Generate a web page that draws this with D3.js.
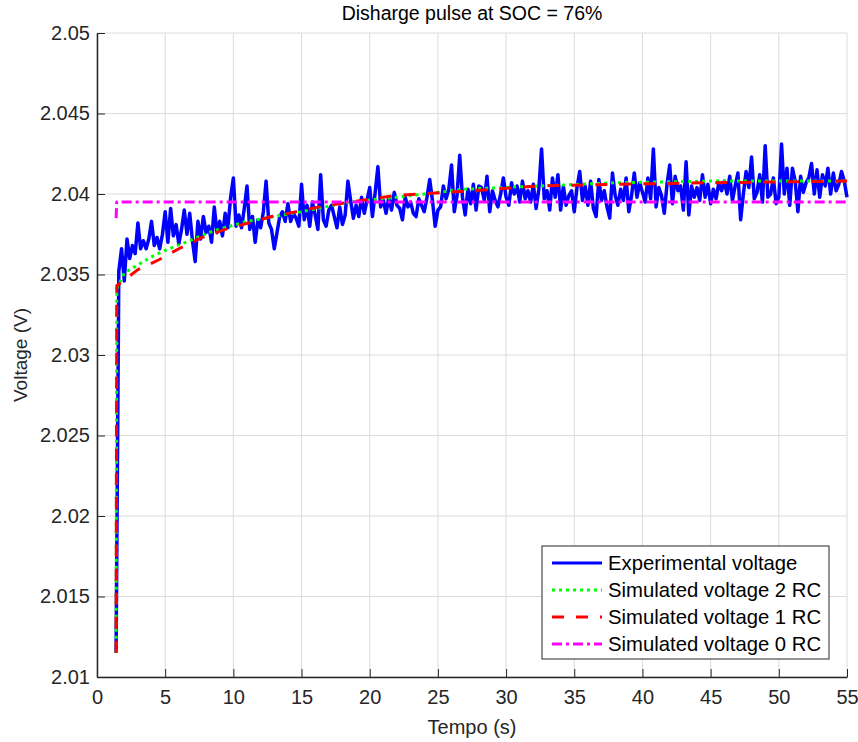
<!DOCTYPE html>
<html>
<head>
<meta charset="utf-8">
<script src="https://cdn.jsdelivr.net/npm/d3@7"></script>
<style>
  body { margin: 0; background: #fff; }
  svg { font-family: "Liberation Sans", Arial, sans-serif; }
  .axis path, .axis line { stroke: #262626; }
  .axis text { fill: #262626; font-size: 20px; }
  .grid line { stroke: #dcdcdc; stroke-width: 1; }
</style>
</head>
<body>
<div id="chart"></div>
<script>
// x ticks / y ticks
const xTicks = [0, 5, 10, 15, 20, 25, 30, 35, 40, 45, 50, 55];
const yTicks = [2.01, 2.015, 2.02, 2.025, 2.03, 2.035, 2.04, 2.045, 2.05];
const yTickLabels = ["2.01", "2.015", "2.02", "2.025", "2.03", "2.035", "2.04", "2.045", "2.05"];

// experimental voltage, sampled every 0.2 s starting at 1.4 s
const expStart = 1.4;
const expStep = 0.2;
const expVoltage = [
  2.0115, 2.0352, 2.0366, 2.0346, 2.0372, 2.0360, 2.0368, 2.0363, 2.0382, 2.0366,
  2.0371, 2.0366, 2.0372, 2.0383, 2.0368, 2.0373, 2.0366, 2.0375, 2.0389, 2.0370,
  2.0391, 2.0374, 2.0381, 2.0369, 2.0378, 2.0390, 2.0375, 2.0388, 2.0371, 2.0358,
  2.0383, 2.0372, 2.0386, 2.0376, 2.0380, 2.0370, 2.0392, 2.0376, 2.0383, 2.0374,
  2.0388, 2.0379, 2.0398, 2.0410, 2.0380, 2.0387, 2.0379, 2.0391, 2.0405, 2.0378,
  2.0386, 2.0370, 2.0384, 2.0379, 2.0389, 2.0408, 2.0382, 2.0378, 2.0366, 2.0376,
  2.0386, 2.0389, 2.0383, 2.0394, 2.0383, 2.0388, 2.0385, 2.0380, 2.0406, 2.0384,
  2.0393, 2.0380, 2.0395, 2.0387, 2.0378, 2.0412, 2.0384, 2.0380, 2.0390, 2.0393,
  2.0386, 2.0379, 2.0392, 2.0381, 2.0387, 2.0408, 2.0396, 2.0385, 2.0393, 2.0386,
  2.0398, 2.0388, 2.0396, 2.0404, 2.0386, 2.0401, 2.0417, 2.0392, 2.0396, 2.0388,
  2.0398, 2.0390, 2.0401, 2.0393, 2.0391, 2.0384, 2.0398, 2.0392, 2.0395, 2.0388,
  2.0386, 2.0397, 2.0393, 2.0389, 2.0398, 2.0409, 2.0396, 2.0380, 2.0390, 2.0392,
  2.0405, 2.0397, 2.0403, 2.0418, 2.0389, 2.0399, 2.0424, 2.0398, 2.0387, 2.0403,
  2.0394, 2.0406, 2.0390, 2.0405, 2.0404, 2.0396, 2.0411, 2.0389, 2.0402, 2.0396,
  2.0392, 2.0400, 2.0410, 2.0398, 2.0393, 2.0407, 2.0400, 2.0405, 2.0395, 2.0408,
  2.0397, 2.0402, 2.0395, 2.0406, 2.0391, 2.0403, 2.0428, 2.0397, 2.0402, 2.0390,
  2.0410, 2.0398, 2.0412, 2.0390, 2.0405, 2.0393, 2.0399, 2.0402, 2.0389, 2.0404,
  2.0414, 2.0396, 2.0405, 2.0393, 2.0408, 2.0391, 2.0386, 2.0409, 2.0396, 2.0402,
  2.0392, 2.0385, 2.0413, 2.0399, 2.0393, 2.0403, 2.0396, 2.0410, 2.0389, 2.0399,
  2.0413, 2.0398, 2.0407, 2.0401, 2.0395, 2.0410, 2.0397, 2.0428, 2.0392, 2.0404,
  2.0399, 2.0388, 2.0406, 2.0418, 2.0394, 2.0411, 2.0402, 2.0405, 2.0390, 2.0420,
  2.0387, 2.0405, 2.0398, 2.0404, 2.0396, 2.0412, 2.0398, 2.0406, 2.0394, 2.0403,
  2.0397, 2.0407, 2.0402, 2.0408, 2.0400, 2.0411, 2.0396, 2.0405, 2.0413, 2.0384,
  2.0400, 2.0414, 2.0404, 2.0423, 2.0397, 2.0401, 2.0412, 2.0395, 2.0430, 2.0398,
  2.0400, 2.0410, 2.0394, 2.0398, 2.0431, 2.0400, 2.0416, 2.0393, 2.0416, 2.0408,
  2.0389, 2.0411, 2.0401, 2.0407, 2.0410, 2.0419, 2.0400, 2.0415, 2.0398, 2.0412,
  2.0405, 2.0416, 2.0400, 2.0413, 2.0402, 2.0406, 2.0414, 2.0408, 2.0398
];

// simulated curves, [time, voltage]
const sim2RC = [
  [1.4, 2.0115], [1.45, 2.0341], [2, 2.0351], [3, 2.0356], [4, 2.0361], [5, 2.0365],
  [6.5, 2.0370], [8.5, 2.0377], [11, 2.0383], [15, 2.0389], [18.5, 2.0395], [22, 2.0398],
  [27, 2.0403], [32.5, 2.0405], [38, 2.0407], [45, 2.0408], [55, 2.0408]
];
const sim1RC = [
  [1.4, 2.0115], [1.45, 2.0343], [3, 2.0353], [4.5, 2.0359], [6, 2.0366], [7.7, 2.0373],
  [9.4, 2.0378], [11.1, 2.0382], [12.8, 2.0386], [14.6, 2.0389], [16.3, 2.0392], [18.6, 2.0395],
  [21.8, 2.0399], [25.5, 2.0401], [29.2, 2.0403], [32.4, 2.0405], [38, 2.0406], [45, 2.0407], [55, 2.0408]
];
const sim0RC = [[1.4, 2.0385], [1.45, 2.0395], [55, 2.0395]];

const expData = expVoltage.map((v, i) => [expStart + i * expStep, v]);

const series = [
  { name: "Experimental voltage", data: expData, color: "#0000ff", dash: null, w: 3.5 },
  { name: "Simulated voltage 2 RC", data: sim2RC, color: "#00ff00", dash: "3,4", w: 3 },
  { name: "Simulated voltage 1 RC", data: sim1RC, color: "#ff0000", dash: "12,12", w: 3 },
  { name: "Simulated voltage 0 RC", data: sim0RC, color: "#ff00ff", dash: "10,4,3,4", w: 3 }
];

const width = 858, height = 742;
const margin = { top: 33, right: 11, bottom: 65, left: 97 };

const svg = d3.select("#chart").append("svg")
  .attr("width", width)
  .attr("height", height);

const x = d3.scaleLinear().domain([0, 55]).range([margin.left, width - margin.right]);
const y = d3.scaleLinear().domain([2.01, 2.05]).range([height - margin.bottom, margin.top]);

// grid
svg.append("g").attr("class", "grid")
  .selectAll("line").data(xTicks).join("line")
  .attr("x1", d => x(d)).attr("x2", d => x(d))
  .attr("y1", y(2.01)).attr("y2", y(2.05));
svg.append("g").attr("class", "grid")
  .selectAll("line").data(yTicks).join("line")
  .attr("x1", x(0)).attr("x2", x(55))
  .attr("y1", d => y(d)).attr("y2", d => y(d));

// lines
const line = d3.line().x(d => x(d[0])).y(d => y(d[1]));
svg.append("clipPath").attr("id", "clip")
  .append("rect")
  .attr("x", x(0)).attr("y", y(2.05) - 2)
  .attr("width", x(55) - x(0) + 2).attr("height", y(2.01) - y(2.05) + 4);

svg.append("g").attr("clip-path", "url(#clip)")
  .selectAll("path").data(series).join("path")
  .attr("d", d => line(d.data))
  .attr("fill", "none")
  .attr("stroke", d => d.color)
  .attr("stroke-width", d => d.w)
  .attr("stroke-linejoin", "round")
  .attr("stroke-dasharray", d => d.dash);

// axes
svg.append("g").attr("class", "axis")
  .attr("transform", `translate(0,${y(2.01)})`)
  .call(d3.axisBottom(x).tickValues(xTicks).tickSize(-8).tickSizeOuter(0).tickPadding(10))
  .call(g => g.selectAll("text").attr("dy", "0.85em"));

svg.append("g").attr("class", "axis")
  .attr("transform", `translate(${x(0)},0)`)
  .call(d3.axisLeft(y).tickValues(yTicks).tickFormat((d, i) => yTickLabels[i])
    .tickSize(-8).tickSizeOuter(0).tickPadding(7));

svg.selectAll(".axis path").attr("stroke-width", 1.5);

// labels
svg.append("text")
  .attr("x", (x(0) + x(55)) / 2).attr("y", 20)
  .attr("text-anchor", "middle")
  .attr("font-size", 19.5).attr("fill", "#000")
  .text("Disharge pulse at SOC = 76%");

svg.append("text")
  .attr("x", (x(0) + x(55)) / 2).attr("y", 734)
  .attr("text-anchor", "middle")
  .attr("font-size", 20).attr("fill", "#262626")
  .text("Tempo (s)");

svg.append("text")
  .attr("transform", `translate(27,${(y(2.01) + y(2.05)) / 2}) rotate(-90)`)
  .attr("text-anchor", "middle")
  .attr("font-size", 19).attr("fill", "#262626")
  .text("Voltage (V)");

// legend
const legend = svg.append("g").attr("transform", "translate(542,546)");
legend.append("rect")
  .attr("width", 287).attr("height", 113)
  .attr("fill", "#fff").attr("stroke", "#262626").attr("stroke-width", 1);

const items = legend.selectAll("g.item").data(series).join("g")
  .attr("class", "item")
  .attr("transform", (d, i) => `translate(0,${17 + i * 27})`);
items.append("line")
  .attr("x1", 10).attr("x2", 60)
  .attr("stroke", d => d.color).attr("stroke-width", 3)
  .attr("stroke-dasharray", d => d.dash);
items.append("text")
  .attr("x", 66).attr("dy", "0.35em")
  .attr("font-size", 20.3).attr("fill", "#000")
  .text(d => d.name);
</script>
</body>
</html>
